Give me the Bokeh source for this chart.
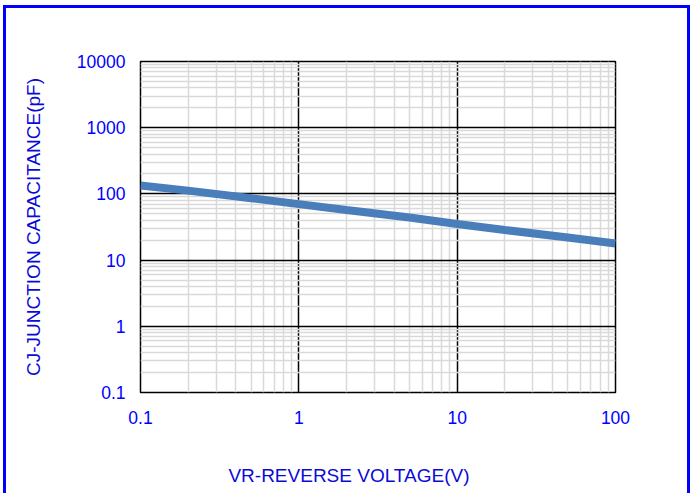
from bokeh.plotting import figure
from bokeh.models import FixedTicker, Range1d
from bokeh.embed import file_html
from bokeh.resources import INLINE

# data
voltage = [0.1, 0.2, 0.5, 1, 2, 5, 10, 20, 50, 100]
capacitance = [134, 112, 86, 70, 57, 44, 35, 28.5, 22, 17.8]

x_ticks = [0.1, 1, 10, 100]
x_labels = ["0.1", "1", "10", "100"]
y_ticks = [0.1, 1, 10, 100, 1000, 10000]
y_labels = ["0.1", "1", "10", "100", "1000", "10000"]

x_minor = [d * k for d in [0.1, 1, 10] for k in range(2, 10)]
y_minor = [d * k for d in [0.1, 1, 10, 100, 1000] for k in range(2, 10)]

TICK_BLUE = "#0000ff"
LABEL_BLUE = "#0a0ad8"

p = figure(width=687, height=488, x_axis_type="log", y_axis_type="log",
           x_range=Range1d(0.1, 100), y_range=Range1d(0.1, 10000),
           output_backend="svg", toolbar_location=None,
           min_border_left=134, min_border_right=78,
           min_border_top=53, min_border_bottom=104)
p.styles = {"border": "3px solid #0000ff", "border-bottom": "none",
            "margin-left": "3px", "margin-top": "5px"}

p.xaxis.ticker = FixedTicker(ticks=x_ticks, minor_ticks=x_minor)
p.yaxis.ticker = FixedTicker(ticks=y_ticks, minor_ticks=y_minor)
p.xaxis.major_label_overrides = dict(zip(x_ticks, x_labels))
p.yaxis.major_label_overrides = dict(zip(y_ticks, y_labels))

for ax in (p.xaxis, p.yaxis):
    ax.major_tick_line_color = None
    ax.minor_tick_line_color = None
    ax.axis_line_color = None
    ax.major_label_text_color = TICK_BLUE
    ax.major_label_text_font = "Liberation Sans"
    ax.major_label_text_font_size = "17.5px"
    ax.axis_label_text_font = "Liberation Sans"
    ax.axis_label_text_font_style = "normal"
    ax.axis_label_text_color = LABEL_BLUE
    ax.axis_label_text_font_size = "19px"

p.xaxis.major_label_standoff = 12
p.yaxis.major_label_standoff = 9
p.yaxis.axis_label = "CJ-JUNCTION CAPACITANCE(pF)"
p.yaxis.axis_label_standoff = 30
p.xaxis.axis_label = "VR-REVERSE VOLTAGE(V)" + "\u00a0" * 11
p.xaxis.axis_label_standoff = 38

for g in (p.xgrid, p.ygrid):
    g.grid_line_color = "black"
    g.grid_line_width = 1.5
    g.minor_grid_line_color = "#d9d9d9"
    g.minor_grid_line_width = 1.5

p.outline_line_color = "black"
p.outline_line_width = 1.5
p.background_fill_color = "white"
p.border_fill_color = "white"

p.line(voltage, capacitance, line_color="#4a7ebb", line_width=8)

open("out.html", "w").write(file_html(p, INLINE))
